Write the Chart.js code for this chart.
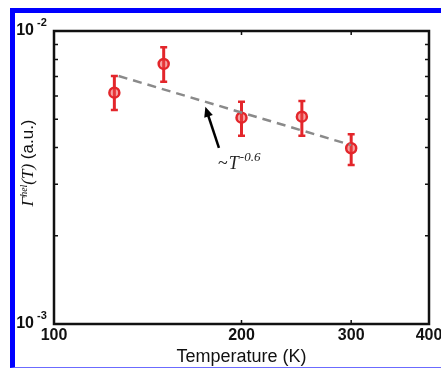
<!DOCTYPE html>
<html>
<head>
<meta charset="utf-8">
<script src="https://cdn.jsdelivr.net/npm/chart.js@4.4.1/dist/chart.umd.min.js"></script>
<style>
  html, body { margin: 0; padding: 0; background: #fff; }
  #wrap { position: relative; width: 441px; height: 369px; overflow: hidden; background: #fff; }
  #wrap canvas { position: absolute; left: 0; top: 0; }
  #frame {
    position: absolute; left: 10px; top: 8px; right: 0; bottom: 1px;
    border-top: 5px solid #0000ff; border-left: 5px solid #0000ff;
    border-bottom: 1px solid #6b6bff; pointer-events: none;
  }
</style>
</head>
<body>
<div id="wrap">
  <canvas id="chart" width="441" height="369"></canvas>
  <div id="frame"></div>
</div>
<script>
// データ
const temps = [125, 150, 200, 250, 300];
const signal = [0.00616, 0.00772, 0.00506, 0.00510, 0.00398];
const errLow = [0.00537, 0.00671, 0.00439, 0.00439, 0.00349];
const errHigh = [0.00702, 0.00880, 0.00574, 0.00577, 0.00444];

// ~T^-0.6 のフィット線
const fitT = [127, 300];
const fitY = [0.00702, 0.00408];

// 目盛り
const xTicks = [100, 200, 300, 400];
const yTicks = [0.001, 0.002, 0.003, 0.004, 0.005, 0.006, 0.007, 0.008, 0.009, 0.01];
const yTickLabels = [
  { value: 0.001, base: '10', exp: '-3' },
  { value: 0.01, base: '10', exp: '-2' },
];

// 注釈（データ座標）
const noteText = { x: 183.4, y: 0.00338, pre: '~', main: 'T', sup: '-0.6' };
const noteArrow = { fromX: 184, fromY: 0.00399, toX: 175, toY: 0.00551 };

const RED = '#e3262b';
const SANS = '"Liberation Sans", Arial, Helvetica, sans-serif';
const SERIF = '"Liberation Serif", "Times New Roman", serif';

Chart.defaults.font.family = SANS;
Chart.defaults.color = '#111';

// エラーバー
const errorBars = {
  id: 'errorBars',
  beforeDatasetsDraw(chart) {
    const { ctx, scales: { x, y } } = chart;
    ctx.save();
    ctx.strokeStyle = RED;
    ctx.lineWidth = 3;
    temps.forEach((t, i) => {
      const px = x.getPixelForValue(t);
      const top = y.getPixelForValue(errHigh[i]);
      const bot = y.getPixelForValue(errLow[i]);
      ctx.beginPath();
      ctx.moveTo(px, top);
      ctx.lineTo(px, bot);
      ctx.stroke();
      ctx.lineWidth = 2.5;
      ctx.beginPath();
      ctx.moveTo(px - 3.5, top);
      ctx.lineTo(px + 3.5, top);
      ctx.moveTo(px - 3.5, bot);
      ctx.lineTo(px + 3.5, bot);
      ctx.stroke();
      ctx.lineWidth = 3;
    });
    ctx.restore();
  },
};

// 枠・内向き目盛り・ラベル類
const frameAndLabels = {
  id: 'frameAndLabels',
  afterDraw(chart) {
    const { ctx, chartArea: a, scales: { x, y } } = chart;
    ctx.save();

    // 内向き目盛り
    ctx.strokeStyle = '#111';
    ctx.lineWidth = 1.5;
    ctx.beginPath();
    xTicks.forEach(v => {
      const px = x.getPixelForValue(v);
      ctx.moveTo(px, a.bottom);
      ctx.lineTo(px, a.bottom - 4);
      ctx.moveTo(px, a.top);
      ctx.lineTo(px, a.top + 4);
    });
    yTicks.forEach(v => {
      const py = y.getPixelForValue(v);
      ctx.moveTo(a.left, py);
      ctx.lineTo(a.left + 4, py);
      ctx.moveTo(a.right, py);
      ctx.lineTo(a.right - 4, py);
    });
    ctx.stroke();

    // 外枠
    ctx.lineWidth = 2.5;
    ctx.strokeRect(a.left, a.top, a.right - a.left, a.bottom - a.top);

    // y 目盛りラベル 10^n
    ctx.fillStyle = '#111';
    yTickLabels.forEach(l => {
      const py = y.getPixelForValue(l.value);
      ctx.font = 'bold 16px ' + SANS;
      ctx.textAlign = 'right';
      ctx.textBaseline = 'middle';
      ctx.fillText(l.base, 34, py);
      ctx.font = 'bold 11px ' + SANS;
      ctx.textAlign = 'left';
      ctx.fillText(l.exp, 37, py - 8);
    });

    // y 軸タイトル Γ^hel(T) (a.u.)
    ctx.save();
    ctx.translate(27, 163);
    ctx.rotate(-Math.PI / 2);
    const parts = [
      { t: 'Γ', f: 'italic 17px ' + SERIF, dy: 0 },
      { t: 'hel', f: 'italic 10px ' + SERIF, dy: -6 },
      { t: '(T)', f: 'italic 17px ' + SERIF, dy: 0 },
      { t: ' (a.u.)', f: '17px ' + SANS, dy: 0 },
    ];
    let total = 0;
    parts.forEach(p => { ctx.font = p.f; p.w = ctx.measureText(p.t).width; total += p.w; });
    let cx = -total / 2;
    ctx.textAlign = 'left';
    ctx.textBaseline = 'alphabetic';
    parts.forEach(p => {
      ctx.font = p.f;
      ctx.fillText(p.t, cx, 6 + p.dy);
      cx += p.w;
    });
    ctx.restore();

    // 注釈の矢印
    const fx = x.getPixelForValue(noteArrow.fromX);
    const fy = y.getPixelForValue(noteArrow.fromY);
    const tx = x.getPixelForValue(noteArrow.toX);
    const ty = y.getPixelForValue(noteArrow.toY);
    const ang = Math.atan2(ty - fy, tx - fx);
    ctx.strokeStyle = '#000';
    ctx.fillStyle = '#000';
    ctx.lineWidth = 2.5;
    ctx.beginPath();
    ctx.moveTo(fx, fy);
    ctx.lineTo(tx - 7 * Math.cos(ang), ty - 7 * Math.sin(ang));
    ctx.stroke();
    ctx.beginPath();
    ctx.moveTo(tx, ty);
    ctx.lineTo(tx - 10 * Math.cos(ang) + 4.5 * Math.sin(ang), ty - 10 * Math.sin(ang) - 4.5 * Math.cos(ang));
    ctx.lineTo(tx - 10 * Math.cos(ang) - 4.5 * Math.sin(ang), ty - 10 * Math.sin(ang) + 4.5 * Math.cos(ang));
    ctx.closePath();
    ctx.fill();

    // 注釈テキスト ~T^-0.6
    let nx = x.getPixelForValue(noteText.x);
    const ny = y.getPixelForValue(noteText.y);
    ctx.fillStyle = '#222';
    ctx.textAlign = 'left';
    ctx.textBaseline = 'alphabetic';
    ctx.font = '18px ' + SERIF;
    ctx.fillText(noteText.pre, nx, ny);
    nx += ctx.measureText(noteText.pre).width + 1;
    ctx.font = 'italic 18px ' + SERIF;
    ctx.fillText(noteText.main, nx, ny);
    nx += ctx.measureText(noteText.main).width + 1;
    ctx.font = 'italic 13px ' + SERIF;
    ctx.fillText(noteText.sup, nx, ny - 8);

    ctx.restore();
  },
};

new Chart(document.getElementById('chart'), {
  type: 'scatter',
  data: {
    datasets: [
      {
        label: 'fit',
        type: 'line',
        data: fitT.map((t, i) => ({ x: t, y: fitY[i] })),
        borderColor: '#8a8a8a',
        borderWidth: 2.5,
        borderDash: [9, 6],
        pointRadius: 0,
        fill: false,
      },
      {
        label: 'data',
        data: temps.map((t, i) => ({ x: t, y: signal[i] })),
        pointRadius: 5,
        pointHoverRadius: 5,
        borderColor: RED,
        borderWidth: 2.5,
        backgroundColor: 'rgba(235,70,70,0.5)',
      },
    ],
  },
  options: {
    responsive: false,
    animation: false,
    events: [],
    layout: { padding: { top: 31, right: 12, left: 0, bottom: 0 } },
    plugins: { legend: { display: false }, tooltip: { enabled: false } },
    scales: {
      x: {
        type: 'logarithmic',
        min: 100,
        max: 400,
        afterBuildTicks: s => { s.ticks = xTicks.map(v => ({ value: v })); },
        afterFit: s => { s.height = 45; s.paddingLeft = 0; s.paddingRight = 0; },
        ticks: {
          callback: v => String(v),
          font: { size: 16, weight: 'bold' },
          color: '#111',
          padding: 2,
          maxRotation: 0,
          autoSkip: false,
        },
        grid: { display: false, drawTicks: false },
        border: { display: false },
        title: {
          display: true,
          text: 'Temperature (K)',
          font: { size: 18 },
          color: '#111',
          padding: { top: 0, bottom: 1 },
        },
      },
      y: {
        type: 'logarithmic',
        min: 0.001,
        max: 0.01,
        afterBuildTicks: s => { s.ticks = yTicks.map(v => ({ value: v })); },
        afterFit: s => { s.width = 54; },
        ticks: { display: false },
        grid: { display: false, drawTicks: false },
        border: { display: false },
      },
    },
  },
  plugins: [errorBars, frameAndLabels],
});
</script>
</body>
</html>
